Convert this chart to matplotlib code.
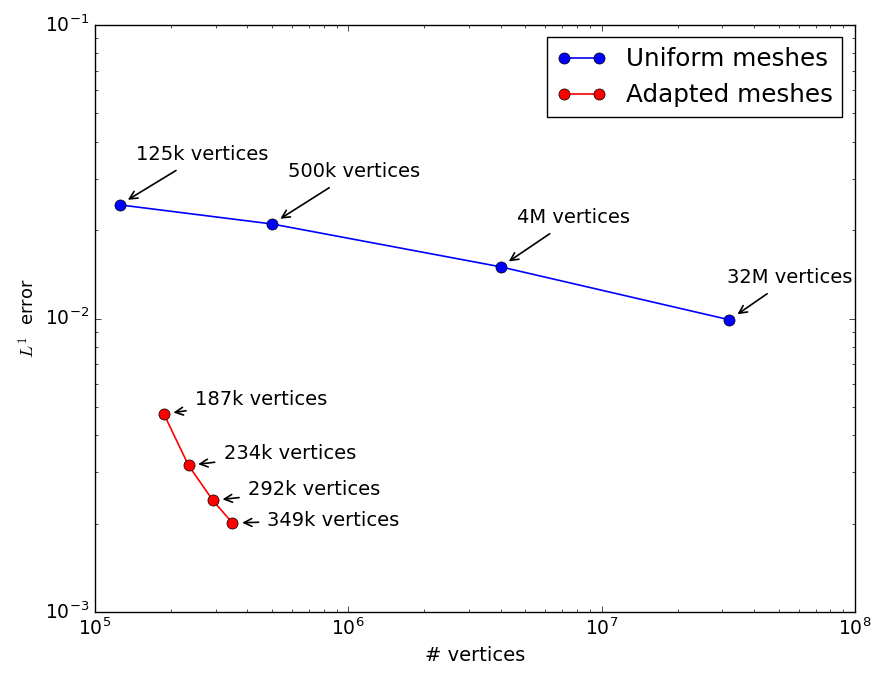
"""Error vs number of vertices, uniform vs adapted meshes."""

import matplotlib
matplotlib.use("Agg")
import matplotlib.pyplot as plt

plt.style.use("classic")

# Uniform meshes
uniform_vertices = [1.25e5, 5.0e5, 4.0e6, 3.2e7]
uniform_error = [0.0244, 0.0210, 0.0150, 0.0099]
uniform_labels = ["125k vertices", "500k vertices", "4M vertices", "32M vertices"]

# Adapted meshes
adapted_vertices = [1.87e5, 2.34e5, 2.92e5, 3.49e5]
adapted_error = [0.00473, 0.00316, 0.00240, 0.00201]
adapted_labels = ["187k vertices", "234k vertices", "292k vertices", "349k vertices"]

# label offsets (pixels) from each point
uniform_offsets = [(16, 50), (16, 52), (16, 49), (-2, 42)]
adapted_offsets = [(31, 14), (35, 12), (35, 11), (35, 3)]

fig = plt.figure(figsize=(8.74, 6.77), dpi=100, facecolor="white")
ax = fig.add_axes([0.1087, 0.096, 0.978 - 0.1087, 0.963 - 0.096])

ax.loglog(uniform_vertices, uniform_error, "o-", color="blue", markersize=8,
          linewidth=1.2, label="Uniform meshes")
ax.loglog(adapted_vertices, adapted_error, "o-", color="red", markersize=8,
          linewidth=1.2, label="Adapted meshes")

arrow = dict(arrowstyle="->", color="black", lw=1.2, shrinkA=4, shrinkB=7)
for x, y, lab, off in zip(uniform_vertices, uniform_error, uniform_labels, uniform_offsets):
    ax.annotate(lab, xy=(x, y), xytext=off, textcoords="offset pixels",
                ha="left", va="center", fontsize=14, arrowprops=arrow)
for x, y, lab, off in zip(adapted_vertices, adapted_error, adapted_labels, adapted_offsets):
    ax.annotate(lab, xy=(x, y), xytext=off, textcoords="offset pixels",
                ha="left", va="center", fontsize=14, arrowprops=arrow)

ax.set_xlim(1e5, 1e8)
ax.set_ylim(1e-3, 1e-1)
ax.tick_params(labelsize=13.5)
ax.set_xlabel("# vertices", fontsize=14)
ax.set_ylabel("$L^1$  error", fontsize=13)
ax.legend(loc="upper right", fontsize=17.7, numpoints=2)

plt.savefig("out.png", dpi=100, facecolor="white")
